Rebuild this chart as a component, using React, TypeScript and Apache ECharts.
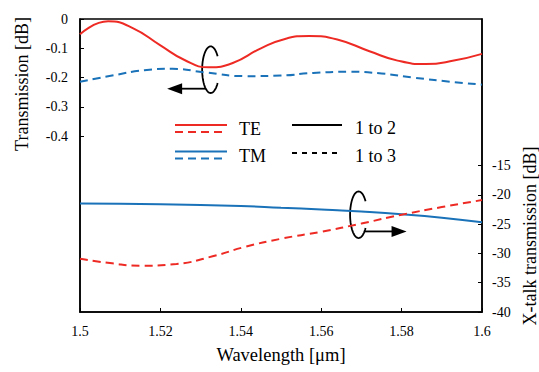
import React, { useEffect, useRef } from 'react';
import * as echarts from 'echarts';

// ---- data ----
// TE, 1 to 2 (red solid, left axis)
const teThroughWl = [1.5, 1.507, 1.513, 1.52, 1.526, 1.532, 1.538, 1.545, 1.551, 1.557, 1.564, 1.572, 1.579, 1.586, 1.593, 1.6];
const teThroughVal = [-0.052, -0.008, -0.03, -0.09, -0.14, -0.165, -0.15, -0.1, -0.068, -0.058, -0.07, -0.11, -0.142, -0.154, -0.142, -0.119];
// TM, dashed (blue dashed, left axis)
const tmThroughWl = [1.5, 1.508, 1.516, 1.523, 1.531, 1.541, 1.55, 1.558, 1.567, 1.575, 1.583, 1.592, 1.6];
const tmThroughVal = [-0.214, -0.193, -0.175, -0.17, -0.182, -0.195, -0.193, -0.184, -0.18, -0.186, -0.2, -0.214, -0.224];
// TM, solid (blue solid, right axis)
const tmXtalkWl = [1.5, 1.52, 1.54, 1.55, 1.56, 1.57, 1.58, 1.59, 1.6];
const tmXtalkVal = [-21.5, -21.6, -21.9, -22.2, -22.5, -22.85, -23.3, -23.9, -24.7];
// TE, dashed (red dashed, right axis)
const teXtalkWl = [1.5, 1.508, 1.515, 1.524, 1.533, 1.541, 1.55, 1.56, 1.57, 1.58, 1.59, 1.6];
const teXtalkVal = [-30.9, -31.7, -32.1, -31.8, -30.5, -28.9, -27.5, -26.3, -24.9, -23.4, -22.1, -20.9];

const leftTicks = [0, -0.1, -0.2, -0.3, -0.4];
const rightTicks = [-40, -35, -30, -25, -20, -15];

const zip = (a: number[], b: number[]) => a.map((v, i) => [v, b[i]]);

const W = 539;
const H = 372;
const G = { left: 80, right: 57, top: 19, bottom: 60 };
const FONT = 'Liberation Serif';
const RED = '#ee2a24';
const BLUE = '#1a72b8';

// pixel helpers for the annotation layer (same linear mapping as the axes)
const px = (wl: number) => G.left + ((wl - 1.5) / 0.1) * (W - G.left - G.right);
const pyL = (v: number) => G.top + ((0 - v) / 1) * (H - G.top - G.bottom);
const pyR = (v: number) => G.top + ((10 - v) / 50) * (H - G.top - G.bottom);

function ellipsePoints(cx: number, cy: number, rx: number, ry: number) {
  const pts: number[][] = [];
  for (let t = 35; t <= 325; t += 5) {
    const a = (t * Math.PI) / 180;
    pts.push([cx + rx * Math.cos(a), cy + ry * Math.sin(a)]);
  }
  return pts;
}

const CSS = `#chart-box svg text, #chart-box svg tspan { font-family: "Liberation Serif", "Times New Roman", serif !important; }`;

export default function App() {
  const ref = useRef<HTMLDivElement>(null);
  useEffect(() => {
    const chart = echarts.init(ref.current!, null, { renderer: 'svg', width: W, height: H });

    const topC = [px(1.5325), pyL(-0.173)];
    const botC = [px(1.5693), pyR(-23.4)];
    const rx = 8.5, ry = 23.3;
    const tY = topC[1] + 19;
    const bY = botC[1] + 16.7;

    const legendLine = (x1: number, x2: number, y: number, color: string, dash: number[] | null) => {
      const style: any = { stroke: color, lineWidth: 2 };
      if (dash) style.lineDash = dash;
      return { type: 'line', shape: { x1, y1: y, x2, y2: y }, style };
    };
    const txt = (x: number, y: number, text: string) => ({
      type: 'text', x, y,
      style: { text, fontFamily: FONT, fontSize: 18, fill: '#000', align: 'left', verticalAlign: 'middle' },
    });
    const vtxt = (x: number, y: number, text: string) => ({
      type: 'text', x, y, rotation: Math.PI / 2,
      style: { text, fontFamily: FONT, fontSize: 18, fill: '#000', align: 'center', verticalAlign: 'middle' },
    });

    chart.setOption({
      animation: false,
      backgroundColor: '#fff',
      textStyle: { fontFamily: FONT },
      grid: {
        ...G,
        show: true, borderColor: '#000', borderWidth: 1.5, backgroundColor: 'transparent',
      },
      xAxis: {
        type: 'value', min: 1.5, max: 1.6, interval: 0.02,
        name: 'Wavelength [μm]', nameLocation: 'middle', nameGap: 33,
        nameTextStyle: { fontFamily: FONT, fontSize: 18.5, color: '#000' },
        axisLine: { show: true, onZero: false, lineStyle: { color: '#000', width: 1.5 } },
        axisTick: { show: true, inside: true, length: 4, lineStyle: { color: '#000' } },
        axisLabel: { fontFamily: FONT, fontSize: 14, color: '#000', margin: 12 },
        splitLine: { show: false },
      },
      yAxis: [
        {
          type: 'value', position: 'left', min: -1, max: 0, interval: 0.1,
          axisLine: { show: true, onZero: false, lineStyle: { color: '#000', width: 1.5 } },
          axisTick: { show: true, inside: true, length: 4, customValues: leftTicks, lineStyle: { color: '#000' } },
          axisLabel: {
            fontFamily: FONT, fontSize: 14, color: '#000',
            margin: 12, customValues: leftTicks, padding: [7, 0, 0, 0],
            formatter: (v: number) => String(Math.round(v * 10) / 10),
          },
          splitLine: { show: false },
        },
        {
          type: 'value', position: 'right', min: -40, max: 10, interval: 5,
          axisLine: { show: true, onZero: false, lineStyle: { color: '#000', width: 1.5 } },
          axisTick: { show: true, inside: true, length: 4, customValues: rightTicks, lineStyle: { color: '#000' } },
          axisLabel: {
            fontFamily: FONT, fontSize: 14, color: '#000',
            margin: 10, customValues: rightTicks, padding: [8, 0, 0, 0],
          },
          splitLine: { show: false },
        },
      ],
      series: [
        {
          type: 'line', yAxisIndex: 0, smooth: true, showSymbol: false,
          data: zip(teThroughWl, teThroughVal),
          lineStyle: { color: RED, width: 2 },
        },
        {
          type: 'line', yAxisIndex: 0, smooth: true, showSymbol: false,
          data: zip(tmThroughWl, tmThroughVal),
          lineStyle: { color: BLUE, width: 2, type: [8, 5] },
        },
        {
          type: 'line', yAxisIndex: 1, smooth: true, showSymbol: false,
          data: zip(tmXtalkWl, tmXtalkVal),
          lineStyle: { color: BLUE, width: 2 },
        },
        {
          type: 'line', yAxisIndex: 1, smooth: true, showSymbol: false,
          data: zip(teXtalkWl, teXtalkVal),
          lineStyle: { color: RED, width: 2, type: [8, 5] },
        },
      ],
      graphic: [
        vtxt(22, 84, 'Transmission [dB]'),
        vtxt(530, 236, 'X-talk transmission [dB]'),
        // legend
        legendLine(175, 227, 125, RED, null),
        legendLine(175, 227, 132, RED, [8, 5]),
        legendLine(175, 227, 151.5, BLUE, null),
        legendLine(175, 227, 158.5, BLUE, [8, 5]),
        legendLine(292, 342, 125, '#000', null),
        legendLine(292, 342, 153, '#000', [5, 5]),
        txt(239, 129, 'TE'),
        txt(239, 156, 'TM'),
        txt(355, 128, '1 to 2'),
        txt(355, 156, '1 to 3'),
        // top loop + arrow (pointing to left axis)
        { type: 'polyline', shape: { points: ellipsePoints(topC[0], topC[1], rx, ry) }, style: { stroke: '#000', lineWidth: 1.8, fill: null } },
        { type: 'line', shape: { x1: topC[0] - 5, y1: tY, x2: topC[0] - 29, y2: tY }, style: { stroke: '#000', lineWidth: 1.8 } },
        {
          type: 'polygon',
          shape: { points: [[topC[0] - 43.5, tY], [topC[0] - 28.5, tY - 5.5], [topC[0] - 28.5, tY + 5.5]] },
          style: { fill: '#000' },
        },
        // bottom loop + arrow (pointing to right axis)
        { type: 'polyline', shape: { points: ellipsePoints(botC[0], botC[1], rx, ry) }, style: { stroke: '#000', lineWidth: 1.8, fill: null } },
        { type: 'line', shape: { x1: botC[0] + 6, y1: bY, x2: botC[0] + 34, y2: bY }, style: { stroke: '#000', lineWidth: 1.8 } },
        {
          type: 'polygon',
          shape: { points: [[botC[0] + 48, bY], [botC[0] + 33, bY - 5.5], [botC[0] + 33, bY + 5.5]] },
          style: { fill: '#000' },
        },
      ],
    });
    return () => chart.dispose();
  }, []);
  return (
    <div id="chart-box" style={{ position: 'fixed', left: 0, top: 0, width: W, height: H, fontFamily: FONT }}>
      <style>{CSS}</style>
      <div ref={ref} style={{ width: W, height: H }} />
    </div>
  );
}
